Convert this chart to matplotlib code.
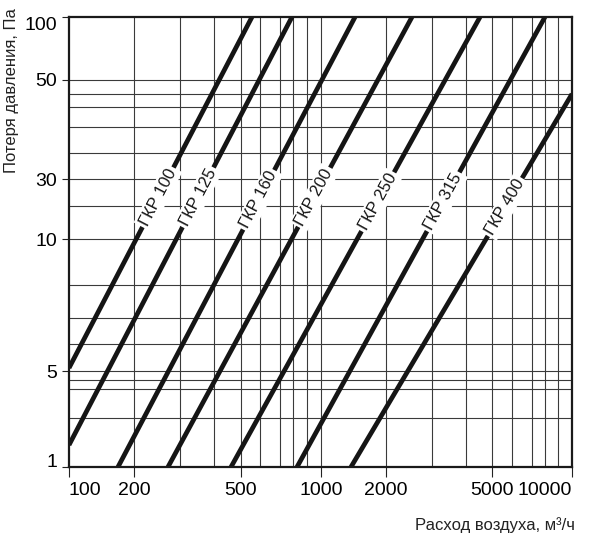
import numpy as np
import matplotlib
matplotlib.use("Agg")
import matplotlib.pyplot as plt

plt.rcParams['font.family'] = ['Liberation Sans', 'DejaVu Sans']

# ---- data ----
series_names = ['ГКР 100', 'ГКР 125', 'ГКР 160', 'ГКР 200', 'ГКР 250', 'ГКР 315', 'ГКР 400']
# start and end points of each straight characteristic: flow (m3/h), pressure loss (Pa)
q_start = [100, 100, 156.6, 247.5, 440.8, 806.5, 1322]
p_start = [2.754, 1.252, 1.0, 1.0, 1.0, 1.0, 1.0]
q_end = [534, 770, 1372, 2311, 4308, 7808, 10000]
p_end = [100, 100, 100, 100, 100, 100, 45.5]
# pressure at which each curve label sits
label_p = [15.8, 15.8, 15.4, 15.8, 15.1, 15.1, 14.3]

# grid lines of the nomogram (as drawn)
x_grid = [181.3, 276.3, 377.2, 483.0, 574.7, 690.2, 777.5, 884.0, 1004.6,
          1821, 2776, 3789, 4808, 5772, 6934, 7808, 8797]
y_grid = [52.5, 45.5, 39.8, 32.4, 24.9, 19.05, 14.45, 10.3,
          6.44, 4.59, 3.52, 2.67, 2.44, 2.22, 1.65]

# tick labels (as printed on the reference)
x_tick_vals = [100, 181.3, 483.0, 1004.6, 1821, 4808, 10000]
x_tick_labels = ['100', '200', '500', '1000', '2000', '5000', '10000']
y_tick_vals = [1, 2.67, 10.3, 19.05, 52.5, 100]
y_tick_labels = ['1', '5', '10', '30', '50', '100']

# ---- figure ----
fig = plt.figure(figsize=(5.9, 5.33), dpi=100)
ax = fig.add_axes([69 / 590, 66 / 533, 503 / 590, 450 / 533])
ax.set_xscale('log')
ax.set_yscale('log')
ax.set_xlim(100, 10000)
ax.set_ylim(1, 100)

for xv in x_grid:
    ax.axvline(xv, color='#3a3a3a', lw=0.8, zorder=1)
for yv in y_grid:
    ax.axhline(yv, color='#3a3a3a', lw=0.8, zorder=1)

for name, q0, p0, q1, p1, lp in zip(series_names, q_start, p_start, q_end, p_end, label_p):
    ax.plot([q0, q1], [p0, p1], color='#151515', lw=3.4, solid_capstyle='butt', zorder=3)
    # label position along the line (log interpolation)
    t = (np.log10(lp) - np.log10(p0)) / (np.log10(p1) - np.log10(p0))
    lq = 10 ** (np.log10(q0) + t * (np.log10(q1) - np.log10(q0)))
    d0 = ax.transData.transform((q0, p0))
    d1 = ax.transData.transform((q1, p1))
    ang = np.degrees(np.arctan2(d1[1] - d0[1], d1[0] - d0[0]))
    ax.text(lq, lp, name, rotation=ang, rotation_mode='anchor', ha='center', va='center',
            fontsize=12, color='#151515', zorder=4,
            bbox=dict(fc='white', ec='none', pad=1.8))

ax.xaxis.set_minor_locator(matplotlib.ticker.NullLocator())
ax.yaxis.set_minor_locator(matplotlib.ticker.NullLocator())
ax.set_xticks(x_tick_vals)
ax.set_xticklabels(x_tick_labels)
ax.set_yticks(y_tick_vals)
ax.set_yticklabels(y_tick_labels)
ax.tick_params(axis='x', length=7.2, width=0.8, pad=3.6, labelsize=14, color='#222222')
ax.tick_params(axis='y', length=5.0, width=0.8, pad=3.6, labelsize=14, color='#222222')
xl = ax.get_xticklabels()
xl[0].set_horizontalalignment('left')
xl[-1].set_horizontalalignment('right')
yl = ax.get_yticklabels()
yl[0].set_verticalalignment('baseline')
yl[-1].set_verticalalignment('top')

for s in ax.spines.values():
    s.set_linewidth(1.6)
    s.set_color('#1a1a1a')
    s.set_zorder(5)

ax.set_ylabel('Потеря давления, Па', fontsize=12, color='#222222')
ax.yaxis.set_label_coords(-0.100, 0.836)
ax.set_xlabel('Расход воздуха, м³/ч', fontsize=12, color='#222222', ha='right')
ax.xaxis.set_label_coords(1.006, -0.111)

fig.savefig('out.png', dpi=100)
